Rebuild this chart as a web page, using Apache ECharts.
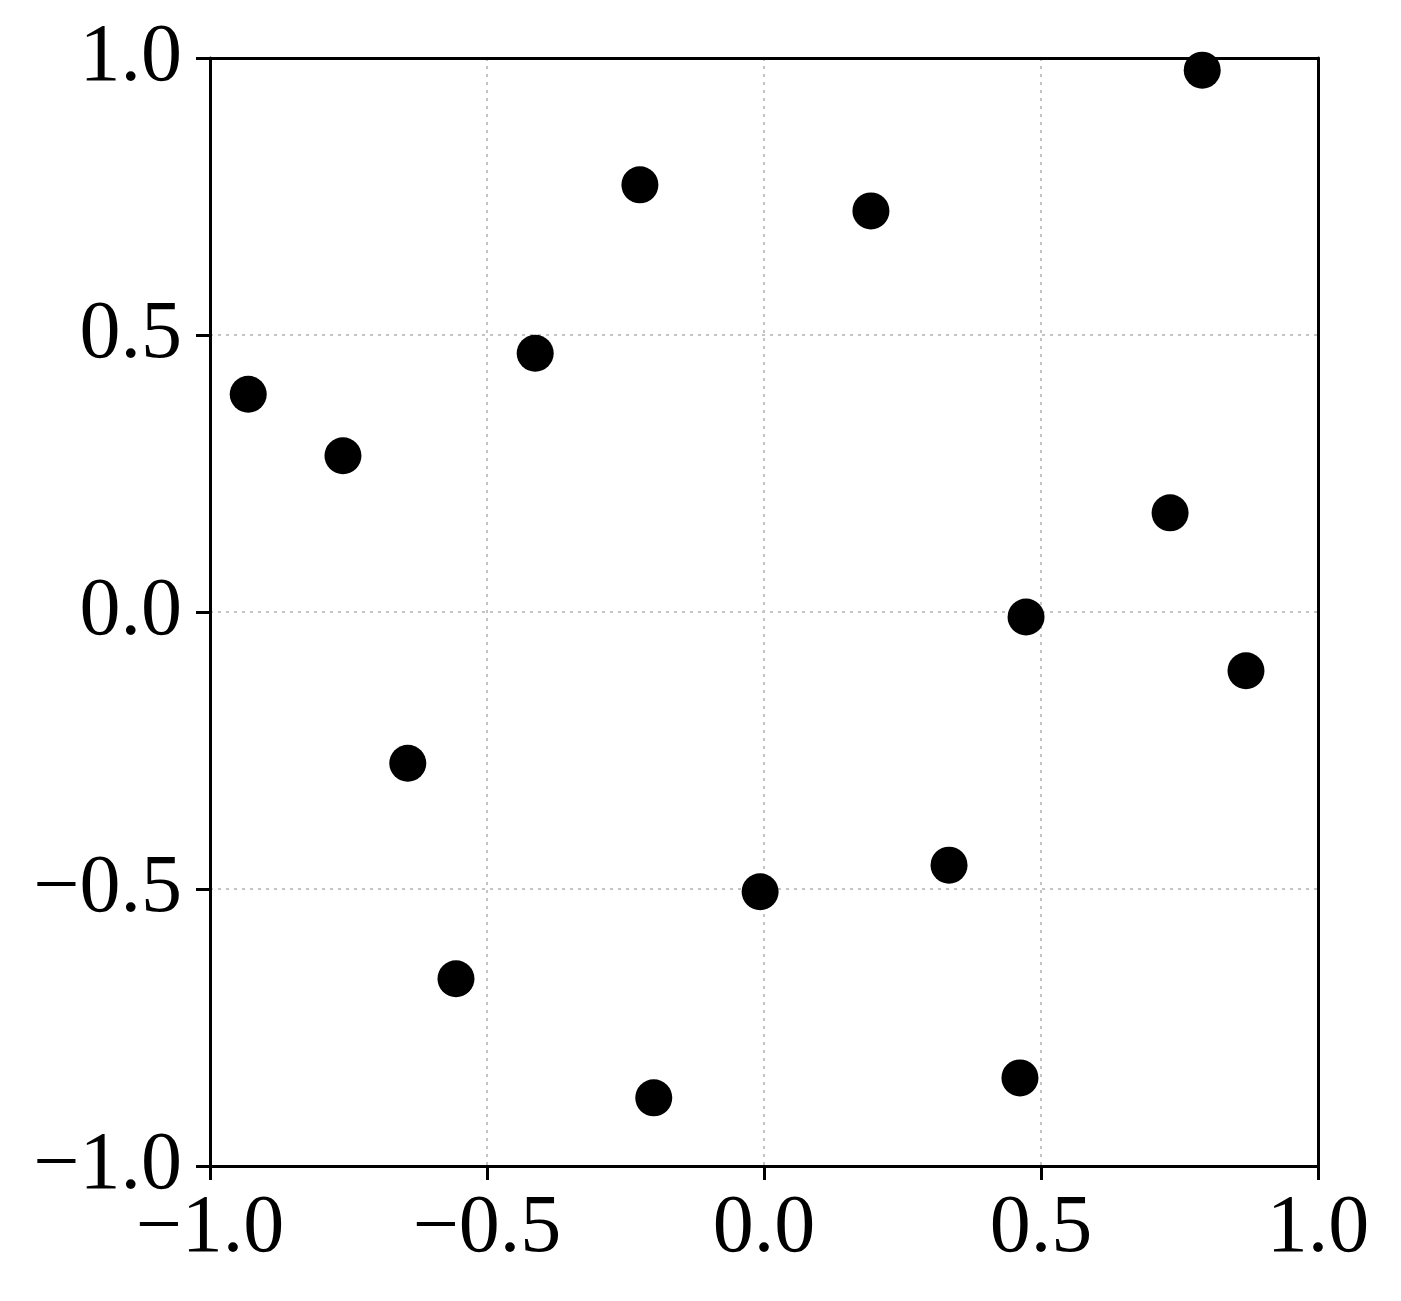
<!DOCTYPE html>
<html>
<head>
<meta charset="utf-8">
<script src="https://cdn.jsdelivr.net/npm/echarts@6/dist/echarts.min.js"></script>
<style>
    html, body { margin: 0; padding: 0; background: #fff; }
    #scatterChart { width: 1401px; height: 1301px; }
</style>
</head>
<body>
<div id="scatterChart"></div>
<script>
var xValues = [-0.931, -0.760, -0.413, -0.224, 0.193, 0.791, 0.733, 0.473, 0.870, -0.643, 0.334, -0.007, -0.556, -0.199, 0.462]
var yValues = [0.393, 0.282, 0.467, 0.771, 0.724, 0.978, 0.179, -0.009, -0.106, -0.273, -0.457, -0.505, -0.662, -0.877, -0.841]
var tickMin = -1.0
var tickMax = 1.0
var tickStep = 0.5

var points = xValues.map(function(x, i) {
    return [x, yValues[i]]
})

function fmt(v) {
    var s = Math.abs(v).toFixed(1)
    return v < 0 ? '\u2212' + s : s
}

var chart = echarts.init(document.getElementById('scatterChart'))
var labelStyle = {
    color: '#000',
    fontFamily: "'Liberation Serif', 'Times New Roman', serif",
    fontSize: 82,
    formatter: fmt
}
var axisLineStyle = { color: '#000', width: 3 }
var gridLineStyle = { color: '#c4c4c4', width: 2, type: [3, 5] }

// frame axes (top/right) only draw the border
function frameAxis(pos) {
    return {
        type: 'value',
        position: pos,
        min: tickMin,
        max: tickMax,
        interval: tickStep,
        z: 3,
        axisLine: { show: true, onZero: false, lineStyle: axisLineStyle },
        axisTick: { show: false },
        axisLabel: { show: false },
        splitLine: { show: false }
    }
}

var option = {
    animation: false,
    grid: {
        left: 210,
        top: 58,
        width: 1108,
        height: 1108
    },
    xAxis: [
        {
            type: 'value',
            min: tickMin,
            max: tickMax,
            interval: tickStep,
            axisLine: { show: true, onZero: false, lineStyle: axisLineStyle },
            axisTick: { show: true, length: 14, lineStyle: axisLineStyle },
            axisLabel: Object.assign({ margin: 22 }, labelStyle),
            splitLine: { show: true, lineStyle: gridLineStyle }
        },
        frameAxis('top')
    ],
    yAxis: [
        {
            type: 'value',
            min: tickMin,
            max: tickMax,
            interval: tickStep,
            axisLine: { show: true, onZero: false, lineStyle: axisLineStyle },
            axisTick: { show: true, length: 14, lineStyle: axisLineStyle },
            axisLabel: Object.assign({ margin: 28 }, labelStyle),
            splitLine: { show: true, lineStyle: gridLineStyle }
        },
        frameAxis('right')
    ],
    series: [
        {
            type: 'scatter',
            data: points,
            symbol: 'circle',
            symbolSize: 37,
            clip: false,
            z: 10,
            itemStyle: { color: '#000', opacity: 1 }
        }
    ]
}
chart.setOption(option)
</script>
</body>
</html>
